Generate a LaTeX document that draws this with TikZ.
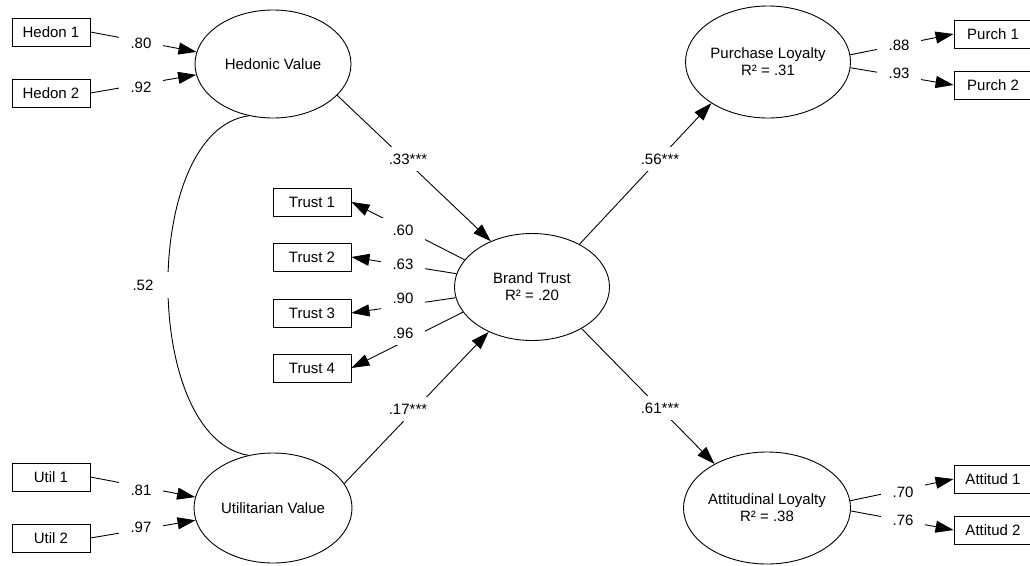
\documentclass[tikz,border=0pt]{standalone}
\usepackage{fontspec}
\setmainfont{Liberation Sans}
\usetikzlibrary{arrows.meta,shapes.geometric}
\begin{document}
\begin{tikzpicture}[x=1pt,y=-1pt, line width=0.9pt,
  font=\fontsize{15}{17}\selectfont,
  lat/.style={draw, ellipse, inner sep=0pt, align=center},
  obs/.style={draw, rectangle, minimum width=78pt, minimum height=28pt, inner sep=0pt},
  lbl/.style={fill=white, inner xsep=12pt, inner ysep=7pt},
  arr/.style={-{Triangle[length=18pt,width=12pt]}}]
\useasboundingbox (0,0) rectangle (1030,565);
\clip (0,0) rectangle (1030,565);
% latent variables
\node[lat, minimum width=156pt, minimum height=108pt] (hv) at (273,64) {Hedonic Value};
\node[lat, minimum width=158pt, minimum height=110pt] (uv) at (273,508) {Utilitarian Value};
\node[lat, minimum width=155pt, minimum height=107pt] (bt) at (532,287) {Brand Trust\\R² = .20};
\node[lat, minimum width=165pt, minimum height=112pt] (pl) at (768,62) {Purchase Loyalty\\R² = .31};
\node[lat, minimum width=167pt, minimum height=112pt] (al) at (767,508) {Attitudinal Loyalty\\R² = .38};
% observed variables
\node[obs] (h1) at (51,32) {Hedon 1};
\node[obs] (h2) at (51,93) {Hedon 2};
\node[obs] (u1) at (51,477) {Util 1};
\node[obs] (u2) at (51,538) {Util 2};
\node[obs] (t1) at (312,202) {Trust 1};
\node[obs] (t2) at (312,257) {Trust 2};
\node[obs] (t3) at (312,313) {Trust 3};
\node[obs] (t4) at (312,368) {Trust 4};
\node[obs] (p1) at (993,34) {Purch 1};
\node[obs] (p2) at (993,85) {Purch 2};
\node[obs] (a1) at (993,479) {Attitud 1};
\node[obs] (a2) at (993,530) {Attitud 2};
% connectors
\draw[arr] (h1.east) -- (hv.171);
\draw[arr] (h2.east) -- (hv.188);
\draw[arr] (u1.east) -- (uv.172);
\draw[arr] (u2.east) -- (uv.189);
\draw[arr] (bt.158) -- (t1.east);
\draw[arr] (bt.170) -- (t2.east);
\draw[arr] (bt.188) -- (t3.east);
\draw[arr] (bt.200) -- (t4.east);
\draw[arr] (pl.5) -- (p1.west);
\draw[arr] (pl.-4) -- (p2.west);
\draw[arr] (al.5) -- (a1.west);
\draw[arr] (al.-2) -- (a2.west);
\draw[arr] (hv.-26) -- (bt.132);
\draw[arr] (uv.19) -- (bt.226);
\draw[arr] (bt.42) -- (pl.216);
\draw[arr] (bt.-40) -- (al.140);
\draw (hv.245) .. controls (141,130) and (141,438) .. (uv.115);
% labels
\node[lbl] (l80) at (141,43) {.80};
\node[lbl] (l92) at (141,87) {.92};
\node[lbl] (l81) at (141,490) {.81};
\node[lbl] (l97) at (141,527) {.97};
\node[lbl] (l60) at (403,230) {.60};
\node[lbl] (l63) at (403,264) {.63};
\node[lbl] (l90) at (403,298) {.90};
\node[lbl] (l96) at (403,333) {.96};
\node[lbl] (l88) at (899,45) {.88};
\node[lbl] (l93) at (899,73) {.93};
\node[lbl] (l70) at (903,492) {.70};
\node[lbl] (l76) at (903,520) {.76};
\node[lbl] (l33) at (408,159) {.33***};
\node[lbl] (l17) at (408,409) {.17***};
\node[lbl] (l56) at (660,159) {.56***};
\node[lbl] (l61) at (660,408) {.61***};
\node[lbl, inner xsep=17pt, inner ysep=8pt] (l52) at (143,285) {.52};
\end{tikzpicture}
\end{document}
